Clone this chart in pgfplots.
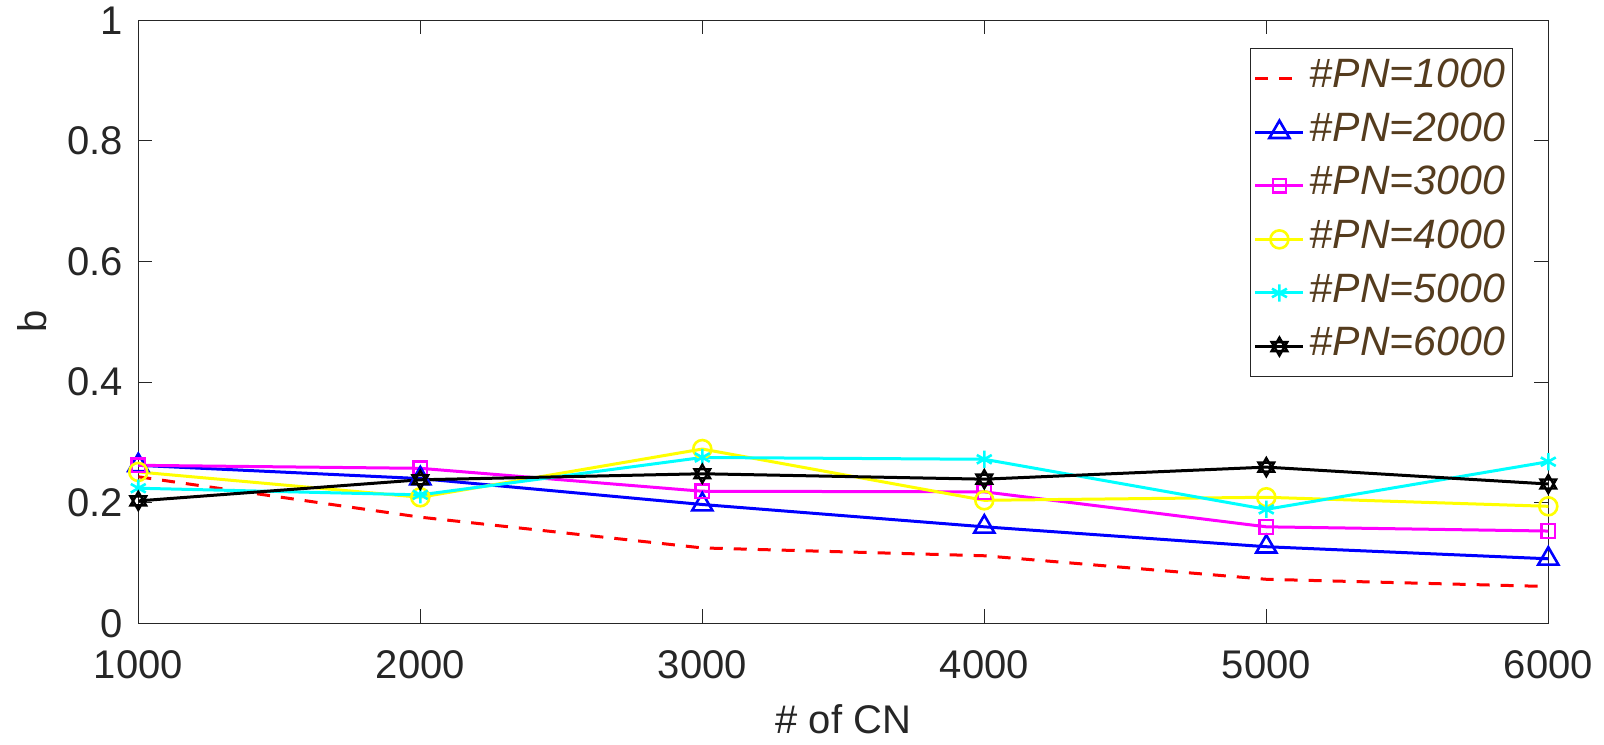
\documentclass[border=0pt]{standalone}
\usepackage{fontspec}
\setmainfont{Liberation Sans}
\usepackage{pgfplots}
\pgfplotsset{compat=1.18}

\definecolor{axgray}{RGB}{38,38,38}
\definecolor{legtext}{RGB}{85,60,30}
\definecolor{mred}{RGB}{255,0,0}
\definecolor{mblue}{RGB}{0,0,255}
\definecolor{mmag}{RGB}{255,0,255}
\definecolor{myel}{RGB}{255,255,0}
\definecolor{mcyan}{RGB}{0,255,255}

% six-pointed star (two triangles), like MATLAB's hexagram
\pgfdeclareplotmark{hexagram}{%
  \pgfpathmoveto{\pgfqpointpolar{90}{\pgfplotmarksize}}%
  \pgfpathlineto{\pgfqpointpolar{210}{\pgfplotmarksize}}%
  \pgfpathlineto{\pgfqpointpolar{330}{\pgfplotmarksize}}%
  \pgfpathclose
  \pgfpathmoveto{\pgfqpointpolar{270}{\pgfplotmarksize}}%
  \pgfpathlineto{\pgfqpointpolar{30}{\pgfplotmarksize}}%
  \pgfpathlineto{\pgfqpointpolar{150}{\pgfplotmarksize}}%
  \pgfpathclose
  \pgfusepathqstroke}

\begin{document}
\begin{tikzpicture}
\begin{axis}[
  name=ax,
  scale only axis,
  width=705pt, height=301.5pt,
  xmin=1000, xmax=6000, ymin=0, ymax=1,
  xtick={1000,2000,3000,4000,5000,6000},
  ytick={0,0.2,0.4,0.6,0.8,1},
  /pgf/number format/assume math mode=true,
  /pgf/number format/1000 sep={},
  font=\fontsize{20}{24}\selectfont,
  axis line style={axgray, line width=0.5pt},
  every tick/.style={axgray, line width=0.5pt},
  tick align=inside,
  major tick length=7pt,
  ticklabel style={text=axgray},
  xticklabel style={anchor=base, inner sep=0pt, yshift=-27.5pt},
  yticklabel style={anchor=east, inner sep=0pt, xshift=-7.5pt},
  xlabel={\# of CN},
  ylabel={b},
  label style={text=axgray},
  xlabel style={at={(axis description cs:0.5,0)}, anchor=base, inner sep=0pt, yshift=-54.9pt},
  ylabel style={at={(axis description cs:0,0.5)}, anchor=center, inner sep=0pt, yshift=53pt},
  legend style={
    at={(0.9752,0.9536)}, anchor=north east,
    draw=axgray, line width=0.5pt, fill=white,
    font=\fontsize{20.5}{24}\selectfont\itshape,
    text=legtext,
    inner xsep=1.5pt, inner ysep=1.5pt,
    row sep=0pt,
    nodes={text height=18pt, text depth=8.8pt, inner xsep=2.5pt, inner ysep=0pt},
  },
  legend cell align=left,
  legend image code/.code={%
    \draw[mark repeat=2,mark phase=2,#1] plot coordinates {(0pt,0pt) (12pt,0pt) (24pt,0pt)};},
  every axis plot/.append style={line width=1.5pt},
]
\addplot[mred, dash pattern=on 6.5pt off 5.5pt] coordinates {
  (1000,0.243) (2000,0.176) (3000,0.125) (4000,0.112) (5000,0.073) (6000,0.061)};
\addlegendentry{\#PN=1000}
\addplot[mblue, mark=triangle, mark size=5.8pt, mark options={solid, line width=1.3pt}] coordinates {
  (1000,0.262) (2000,0.240) (3000,0.197) (4000,0.160) (5000,0.127) (6000,0.107)};
\addlegendentry{\#PN=2000}
\addplot[mmag, mark=square, mark size=3.4pt, mark options={solid, line width=1.1pt}] coordinates {
  (1000,0.262) (2000,0.257) (3000,0.219) (4000,0.218) (5000,0.160) (6000,0.153)};
\addlegendentry{\#PN=3000}
\addplot[myel, mark=o, mark size=4.5pt, mark options={solid, line width=1.3pt}] coordinates {
  (1000,0.251) (2000,0.209) (3000,0.289) (4000,0.204) (5000,0.209) (6000,0.194)};
\addlegendentry{\#PN=4000}
\addplot[mcyan, mark=asterisk, mark size=4.3pt, mark options={solid, line width=1.3pt}] coordinates {
  (1000,0.224) (2000,0.213) (3000,0.275) (4000,0.272) (5000,0.189) (6000,0.268)};
\addlegendentry{\#PN=5000}
\addplot[black, mark=hexagram, mark size=4.5pt, mark options={solid, line width=1.2pt}] coordinates {
  (1000,0.203) (2000,0.238) (3000,0.248) (4000,0.239) (5000,0.259) (6000,0.231)};
\addlegendentry{\#PN=6000}
\end{axis}
\pgfresetboundingbox
\path[use as bounding box] ([xshift=-69.15pt,yshift=-60.35pt]ax.south west) rectangle ([xshift=27.85pt,yshift=10.15pt]ax.north east);
\end{tikzpicture}
\end{document}
